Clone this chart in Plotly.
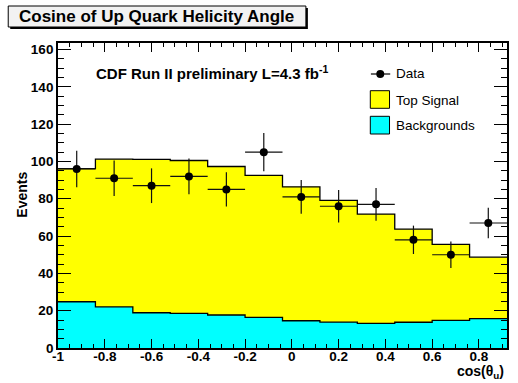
import plotly.graph_objects as go

# ---------------- data ----------------
bin_centers = [-0.92, -0.76, -0.60, -0.44, -0.28, -0.12, 0.04, 0.20, 0.36, 0.52, 0.68, 0.84]
bin_width = 0.16
signal_total = [96.2, 101.2, 101.1, 100.5, 97.3, 92.5, 86.4, 79.1, 71.8, 63.7, 55.5, 48.7]
backgrounds = [24.8, 22.0, 18.9, 18.6, 17.7, 16.4, 14.6, 13.9, 13.2, 13.8, 14.8, 15.7]
data_counts = [96, 91, 87, 92, 85, 105, 81, 76, 77, 58, 50, 67]
data_errors = [9.8, 9.5, 9.3, 9.6, 9.2, 10.2, 9.0, 8.7, 8.8, 7.6, 7.1, 8.2]

x_tick_vals = [-1, -0.8, -0.6, -0.4, -0.2, 0, 0.2, 0.4, 0.6, 0.8]
x_tick_text = ["-1", "-0.8", "-0.6", "-0.4", "-0.2", "0", "0.2", "0.4", "0.6", "0.8"]
y_tick_vals = [0, 20, 40, 60, 80, 100, 120, 140, 160]

title_text = "Cosine of Up Quark Helicity Angle"
label_text = "CDF Run II preliminary L=4.3 fb<sup>-1</sup>"
legend_labels = ["Data", "Top Signal", "Backgrounds"]

# ---------------- geometry helpers ----------------
W, H = 518, 383
L, R, T, B = 58, 509, 43, 348
PW, PH = R - L, B - T


def px(x):
    return (x - L) / PW


def py(y):
    return (B - y) / PH


edges = [c - bin_width / 2 for c in bin_centers] + [bin_centers[-1] + bin_width / 2]

FONT = "Liberation Sans, Arial, Helvetica, sans-serif"

fig = go.Figure()

# Stacked histograms (total = signal + background, then background on top)
fig.add_trace(go.Scatter(
    x=edges, y=signal_total + [signal_total[-1]], mode="lines", line_shape="hv",
    line=dict(color="black", width=1.3), fill="tozeroy", fillcolor="#ffff00",
    showlegend=False, hoverinfo="skip"))
fig.add_trace(go.Scatter(
    x=edges, y=backgrounds + [backgrounds[-1]], mode="lines", line_shape="hv",
    line=dict(color="black", width=1.3), fill="tozeroy", fillcolor="#00ffff",
    showlegend=False, hoverinfo="skip"))

# Data points
fig.add_trace(go.Scatter(
    x=bin_centers, y=data_counts, mode="markers",
    marker=dict(color="black", size=8),
    error_x=dict(type="constant", value=bin_width / 2, width=0, thickness=1.2, color="#111111"),
    error_y=dict(type="data", array=data_errors, width=0, thickness=1.2, color="#111111"),
    showlegend=False))

axis_common = dict(
    showline=True, linecolor="black", linewidth=1.8, mirror="ticks",
    ticks="inside", tickcolor="black", tickwidth=1,
    showgrid=False, zeroline=False,
    tickfont=dict(family=FONT, size=13.5, color="black", weight="bold"),
)

fig.update_xaxes(
    range=[edges[0], edges[-1]], tickmode="array", tickvals=x_tick_vals, ticktext=x_tick_text,
    ticklen=9, ticklabelstandoff=-5,
    minor=dict(tickmode="linear", tick0=-1, dtick=0.05, ticklen=4.5, ticks="inside",
               tickcolor="black", tickwidth=1, showgrid=False),
    **axis_common)
fig.update_yaxes(
    range=[0, 163.5], tickmode="array", tickvals=y_tick_vals,
    ticklen=13.5,
    minor=dict(tickmode="linear", tick0=0, dtick=5, ticklen=6.5, ticks="inside",
               tickcolor="black", tickwidth=1, showgrid=False),
    **axis_common)

shapes = []
annotations = []

# Title box with shadow
shapes.append(dict(type="rect", xref="paper", yref="paper",
                   x0=px(10), x1=px(309), y0=py(8), y1=py(29),
                   fillcolor="black", line=dict(width=0), layer="above"))
shapes.append(dict(type="rect", xref="paper", yref="paper",
                   x0=px(8), x1=px(307), y0=py(6), y1=py(27),
                   fillcolor="#f2f2f2", line=dict(color="black", width=1), layer="above"))
annotations.append(dict(xref="paper", yref="paper", x=px(157), y=py(16.8),
                        text=title_text, showarrow=False, xanchor="center", yanchor="middle",
                        font=dict(family=FONT, size=17, color="black", weight="bold")))

# CDF label
annotations.append(dict(xref="paper", yref="paper", x=px(94), y=py(72.5),
                        text=label_text, showarrow=False, xanchor="left", yanchor="middle",
                        font=dict(family=FONT, size=15, color="black", weight="bold")))

# Legend: Data
shapes.append(dict(type="line", xref="paper", yref="paper",
                   x0=px(372.3), x1=px(391.7), y0=py(74), y1=py(74),
                   line=dict(color="black", width=1.2), layer="above"))
shapes.append(dict(type="circle", xref="paper", yref="paper",
                   x0=px(377.7), x1=px(385.7), y0=py(70), y1=py(78),
                   fillcolor="black", line=dict(color="black", width=0), layer="above"))
# Legend boxes
shapes.append(dict(type="rect", xref="paper", yref="paper",
                   x0=px(371.7), x1=px(391), y0=py(90.7), y1=py(108.3),
                   fillcolor="#ffff00", line=dict(color="black", width=1), layer="above"))
shapes.append(dict(type="rect", xref="paper", yref="paper",
                   x0=px(371.7), x1=px(391), y0=py(116.3), y1=py(134),
                   fillcolor="#00ffff", line=dict(color="black", width=1), layer="above"))
for lbl, yc in zip(legend_labels, [73.5, 100, 125.5]):
    annotations.append(dict(xref="paper", yref="paper", x=px(395.5), y=py(yc),
                            text=lbl, showarrow=False, xanchor="left", yanchor="middle",
                            font=dict(family=FONT, size=13.5, color="black")))

# Axis titles
annotations.append(dict(xref="paper", yref="paper", x=px(21.5), y=py(195),
                        text="Events", showarrow=False, textangle=-90,
                        xanchor="center", yanchor="middle",
                        font=dict(family=FONT, size=14, color="black", weight="bold")))
annotations.append(dict(xref="paper", yref="paper", x=px(507.5), y=py(371.5),
                        text="cos(θ<sub>u</sub>)", showarrow=False,
                        xanchor="right", yanchor="middle",
                        font=dict(family=FONT, size=14, color="black", weight="bold")))

fig.update_layout(
    width=W, height=H,
    margin=dict(l=L, r=W - R, t=T, b=H - B, pad=0),
    paper_bgcolor="white", plot_bgcolor="white",
    shapes=shapes, annotations=annotations,
    showlegend=False,
)

fig.write_html("out.html")
